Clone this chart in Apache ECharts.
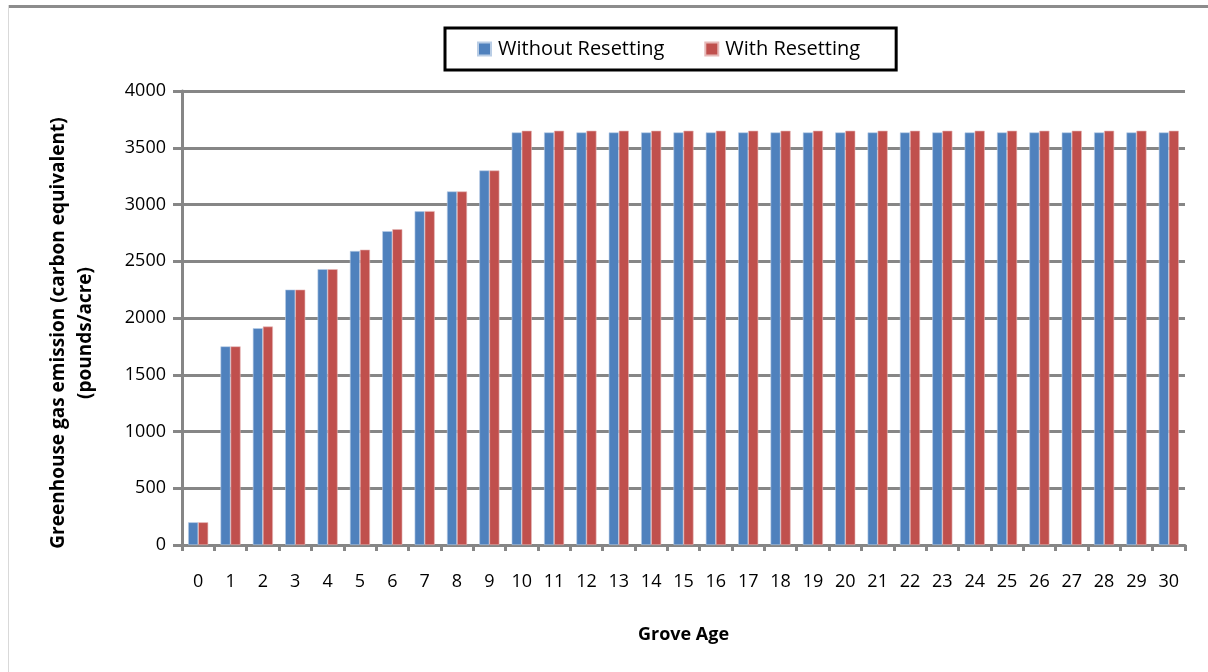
<!DOCTYPE html>
<html>
<head>
<meta charset="utf-8">
<script src="https://cdn.jsdelivr.net/npm/echarts@6/dist/echarts.min.js"></script>
<style>
  html, body { margin: 0; padding: 0; background: #fff; }
  #chart { width: 1208px; height: 672px; }
</style>
</head>
<body>
<div id="chart"></div>
<script>
const categories = ['0','1','2','3','4','5','6','7','8','9','10','11','12','13','14','15','16','17','18','19','20','21','22','23','24','25','26','27','28','29','30'];
const withoutResetting = [200, 1750, 1910, 2250, 2430, 2590, 2765, 2940, 3115, 3300, 3635, 3635, 3635, 3635, 3635, 3635, 3635, 3635, 3635, 3635, 3635, 3635, 3635, 3635, 3635, 3635, 3635, 3635, 3635, 3635, 3635];
const withResetting = [200, 1750, 1925, 2250, 2430, 2602, 2782, 2942, 3115, 3300, 3650, 3650, 3650, 3650, 3650, 3650, 3650, 3650, 3650, 3650, 3650, 3650, 3650, 3650, 3650, 3650, 3650, 3650, 3650, 3650, 3650];
const yTicks = { min: 0, max: 4000, interval: 500 };

const FONT = '"Open Sans", sans-serif';
const chart = echarts.init(document.getElementById('chart'));
chart.setOption({
  animation: false,
  backgroundColor: '#ffffff',
  textStyle: { fontFamily: FONT },
  graphic: [
    { type: 'rect', shape: { x: 8, y: 5, width: 1200, height: 3 }, style: { fill: '#8c8c8c' }, silent: true },
    { type: 'rect', shape: { x: 8, y: 5, width: 1, height: 667 }, style: { fill: '#d9d9d9' }, silent: true }
  ],
  legend: {
    left: 445, top: 28,
    padding: [11, 36, 11, 32],
    borderColor: '#000', borderWidth: 3,
    itemGap: 40,
    itemWidth: 13, itemHeight: 13,
    icon: 'rect',
    textStyle: { fontFamily: FONT, fontSize: 20, color: '#000', padding: [0, 0, 0, 2] },
    data: ['Without Resetting', 'With Resetting']
  },
  grid: { left: 182, right: 23, top: 91, bottom: 127, containLabel: false },
  xAxis: {
    type: 'category',
    data: categories,
    name: 'Grove Age',
    nameLocation: 'middle',
    nameGap: 81,
    nameTextStyle: { fontFamily: FONT, fontSize: 18, fontWeight: 'bold', color: '#000' },
    axisLine: { lineStyle: { color: '#868686', width: 3 } },
    axisTick: { show: true, length: 6, lineStyle: { color: '#868686', width: 3 } },
    axisLabel: { fontFamily: FONT, fontSize: 18, color: '#000', margin: 28 }
  },
  yAxis: {
    type: 'value',
    min: yTicks.min, max: yTicks.max, interval: yTicks.interval,
    name: 'Greenhouse gas emission (carbon equivalent)\n(pounds/acre)',
    nameLocation: 'middle',
    nameRotate: 90,
    nameGap: 83,
    nameTextStyle: { fontFamily: FONT, fontSize: 19, fontWeight: 'bold', color: '#000', lineHeight: 27, padding: [0, 30, 0, 0] },
    axisLine: { show: true, lineStyle: { color: '#868686', width: 3 } },
    axisTick: { show: true, length: 9, lineStyle: { color: '#868686', width: 3 } },
    axisLabel: { fontFamily: FONT, fontSize: 18, color: '#000', margin: 16, formatter: function (v) { return String(v); } },
    splitLine: { lineStyle: { color: '#868686', width: 3 } }
  },
  series: [
    {
      name: 'Without Resetting', type: 'bar', data: withoutResetting,
      barGap: '0%', barCategoryGap: '38%',
      itemStyle: { color: '#4F81BD', borderColor: '#b9cde5', borderWidth: 0.6 }
    },
    {
      name: 'With Resetting', type: 'bar', data: withResetting,
      barGap: '0%', barCategoryGap: '38%',
      itemStyle: { color: '#C0504D', borderColor: '#e6b9b8', borderWidth: 0.6 }
    }
  ]
});
</script>
</body>
</html>
